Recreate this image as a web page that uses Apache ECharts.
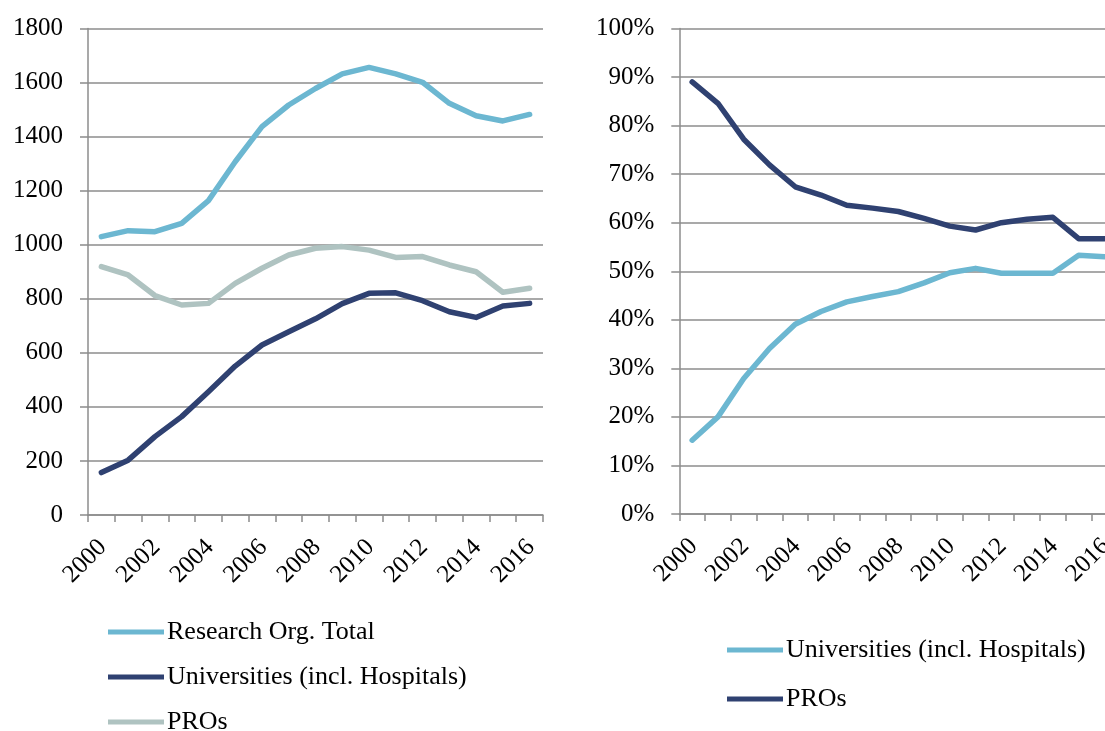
<!DOCTYPE html>
<html>
<head>
<meta charset="utf-8">
<script src="https://cdn.jsdelivr.net/npm/echarts@6/dist/echarts.min.js"></script>
<style>
  html, body { margin: 0; padding: 0; background: #fff; }
  #wrap { position: relative; width: 1105px; height: 731px; overflow: hidden; }
  #left { position: absolute; left: 0; top: 0; width: 560px; height: 731px; }
  #right { position: absolute; left: 560px; top: 0; width: 600px; height: 731px; }
</style>
</head>
<body>
<div id="wrap"><div id="left"></div><div id="right"></div></div>
<script>
// Years on the horizontal axis
const years = ['2000','2001','2002','2003','2004','2005','2006','2007','2008',
               '2009','2010','2011','2012','2013','2014','2015','2016'];

// Left panel: absolute counts
const researchOrgTotal = [1030,1052,1048,1079,1163,1307,1437,1517,1578,1632,1656,1632,1601,1523,1477,1458,1482];
const universitiesAbs  = [157,203,290,364,456,551,629,678,726,782,820,822,793,752,731,773,783];
const prosAbs          = [919,888,812,777,783,857,913,962,987,993,980,953,956,925,900,824,839];

// Right panel: shares in percent
const universitiesShare = [15.2,20.0,27.9,34.1,39.1,41.7,43.7,44.8,45.8,47.6,49.7,50.6,49.6,49.6,49.6,53.3,53.0];
const prosShare         = [89.0,84.6,77.2,71.9,67.4,65.7,63.6,63.0,62.3,60.9,59.3,58.5,60.0,60.7,61.1,56.7,56.7];

const C_LIGHT = '#6cb7d1';
const C_DARK  = '#2f4171';
const C_GREY  = '#afc3c1';
const GRID_C  = '#8c8c8c';
const FONT = 'Liberation Serif';

function xAxisCfg() {
  return {
    type: 'category',
    data: years,
    boundaryGap: true,
    axisLine: { lineStyle: { color: GRID_C, width: 1.5 } },
    axisTick: { show: true, interval: 0, length: 7, lineStyle: { color: GRID_C, width: 1.5 } },
    axisLabel: { interval: 1, rotate: 45, margin: 30, padding: [0, -2, 0, 0],
                 fontFamily: FONT, fontSize: 25, color: '#000' }
  };
}
function yAxisCfg(max, interval, suffix) {
  return {
    type: 'value', min: 0, max: max, interval: interval,
    axisLine: { show: true, lineStyle: { color: GRID_C, width: 1.5 } },
    axisTick: { show: true, length: 8, lineStyle: { color: GRID_C, width: 1.5 } },
    splitLine: { show: true, lineStyle: { color: GRID_C, width: 1.5 } },
    axisLabel: { margin: 25, fontFamily: FONT, fontSize: 25, color: '#000',
                 formatter: v => String(v) + suffix }
  };
}
function lineSeries(name, data, color) {
  return {
    name: name, type: 'line', data: data, symbol: 'none', smooth: false,
    lineStyle: { color: color, width: 5.5, cap: 'round', join: 'round' },
    itemStyle: { color: color }
  };
}
function legendCfg(left, top, gap) {
  return {
    orient: 'vertical', left: left, top: top, height: 300, itemGap: gap,
    icon: 'rect', itemWidth: 56, itemHeight: 5,
    textStyle: { fontFamily: FONT, fontSize: 26, color: '#000', lineHeight: 26, padding: [0, 0, 0, -2] }
  };
}

const leftChart = echarts.init(document.getElementById('left'));
leftChart.setOption({
  animation: false,
  grid: { left: 88, top: 28.5, width: 455, height: 486.5 },
  xAxis: xAxisCfg(),
  yAxis: yAxisCfg(1800, 200, ''),
  legend: legendCfg(103, 614, 19),
  series: [
    lineSeries('Research Org. Total', researchOrgTotal, C_LIGHT),
    lineSeries('Universities (incl. Hospitals)', universitiesAbs, C_DARK),
    lineSeries('PROs', prosAbs, C_GREY)
  ]
});

// The right panel's plot runs past the page edge; the wrapper clips it
const rightChart = echarts.init(document.getElementById('right'));
rightChart.setOption({
  animation: false,
  grid: { left: 119.3, top: 28.5, width: 438, height: 485.5 },
  xAxis: xAxisCfg(),
  yAxis: yAxisCfg(100, 10, '%'),
  legend: legendCfg(162, 632, 23),
  series: [
    lineSeries('Universities (incl. Hospitals)', universitiesShare, C_LIGHT),
    lineSeries('PROs', prosShare, C_DARK)
  ]
});
</script>
</body>
</html>
